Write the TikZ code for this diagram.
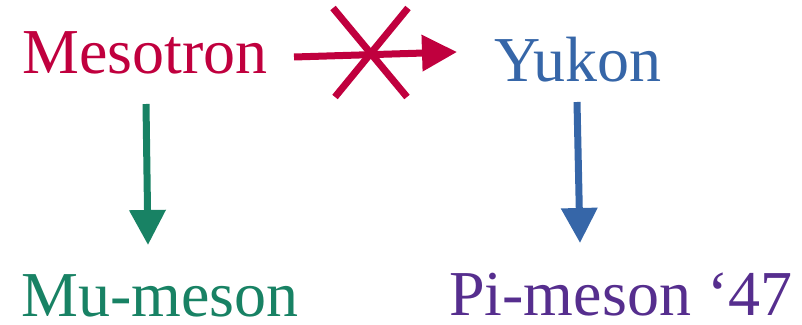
\documentclass[tikz,border=0pt]{standalone}
\usepackage{fontspec}
\setmainfont{Liberation Serif}
\usetikzlibrary{arrows.meta}
\definecolor{mesored}{RGB}{192,0,62}
\definecolor{mugreen}{RGB}{24,130,100}
\definecolor{yukblue}{RGB}{54,102,168}
\definecolor{pipurple}{RGB}{86,46,142}
\tikzset{
  label/.style={anchor=base west, inner sep=0pt, font=\fontsize{64}{70}\selectfont},
  link/.style={line width=7pt, -{Triangle[length=35pt,width=35pt]}},
  strike/.style={line width=7pt, mesored}
}
\begin{document}
\begin{tikzpicture}[x=1pt,y=-1pt]
  \useasboundingbox (0,0) rectangle (802,324);
  % particle names
  \node[label, text=mesored]  (meso) at (22,73)  {Mesotron};
  \node[label, text=yukblue]  (yuk)  at (494,81) {Yukon};
  \node[label, text=mugreen]  (mu)   at (21,316) {Mu-meson};
  \node[label, text=pipurple] (pi)   at (449,315) {Pi-meson ‘47};
  % arrow end points
  \coordinate (mesoOut) at (294,57);
  \coordinate (yukIn)   at (457,52);
  \coordinate (muFrom)  at (146,104);
  \coordinate (muTo)    at (148,245);
  \coordinate (piFrom)  at (577,102);
  \coordinate (piTo)    at (580,243);
  % identification arrows
  \draw[link, mesored] (mesoOut) -- (yukIn);
  \draw[link, mugreen] (muFrom) -- (muTo);
  \draw[link, yukblue] (piFrom) -- (piTo);
  % the cross over the rejected link
  \coordinate (xa) at (333,8);
  \coordinate (xb) at (407,97);
  \coordinate (xc) at (408,8);
  \coordinate (xd) at (335,97);
  \draw[strike] (xa) -- (xb);
  \draw[strike] (xc) -- (xd);
\end{tikzpicture}
\end{document}
